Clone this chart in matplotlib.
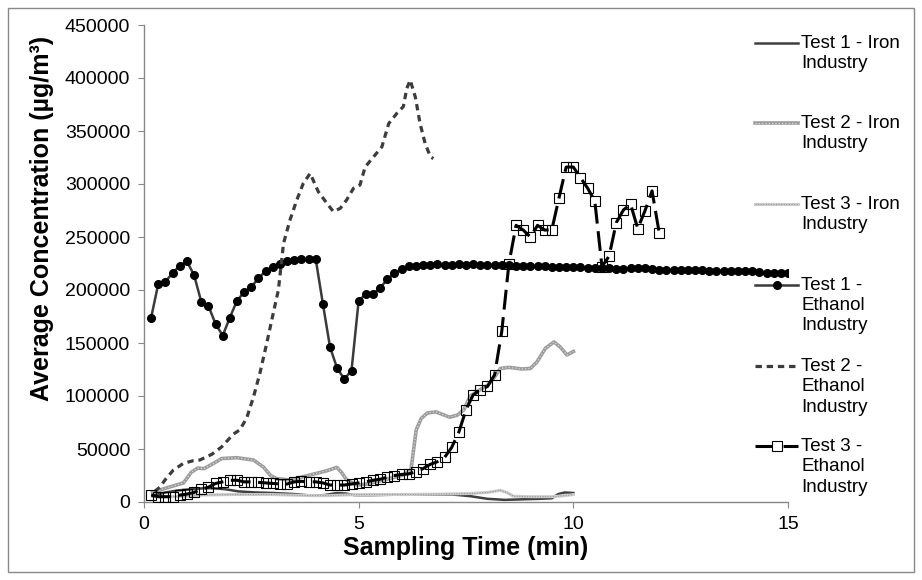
import numpy as np
import matplotlib
matplotlib.use("Agg")
import matplotlib.pyplot as plt
from matplotlib.lines import Line2D
from matplotlib.patches import Rectangle

plt.rcParams['font.family'] = ['Liberation Sans', 'DejaVu Sans']

# Test 1 - Iron Industry (values in 1000 ug/m3)
t_iron1 = [0.2, 0.5, 0.8, 1.1, 1.4, 1.6, 1.9, 2.2, 2.6, 3.0, 3.5, 3.9, 4.2, 4.5, 4.7, 4.9,
           5.3, 6.0, 6.6, 7.2, 7.6, 8.0, 8.4, 8.8, 9.2, 9.5, 9.65, 9.8, 10.0]
c_iron1 = [6, 9, 11, 12, 13, 13, 12, 10, 9, 8.5, 7.5, 6, 6.5, 8.5, 8, 6.5,
           6.5, 7, 7, 7, 5.5, 3, 2, 2.5, 3, 3.5, 7.5, 9, 8.5]

# Test 2 - Iron Industry
t_iron2 = [0.2, 0.5, 0.92, 1.1, 1.25, 1.4, 1.6, 1.81, 2.16, 2.55, 2.78, 2.95, 3.09, 3.4, 3.87,
           4.26, 4.49, 4.6, 4.72, 4.96, 5.2, 5.5, 5.8, 6.0, 6.15, 6.22, 6.34, 6.46, 6.6, 6.8,
           7.12, 7.3, 7.45, 7.6, 7.83, 8.0, 8.15, 8.3, 8.5, 8.8, 9.0, 9.15, 9.35, 9.55, 9.7,
           9.85, 10.0]
c_iron2 = [9, 13, 18, 28, 32, 31.5, 36, 41, 41.8, 39.6, 33, 25, 22, 20.8, 25.5,
           29.5, 32.7, 28, 20.8, 16, 17, 20, 23, 25, 28, 31, 68, 79, 84, 85,
           80, 82, 87, 100, 106, 110, 117, 126, 127, 125.5, 126, 132, 145, 151, 146,
           138.7, 142]

# Test 3 - Iron Industry
t_iron3 = [0.2, 0.6, 1.0, 1.3, 2.0, 3.0, 3.9, 4.3, 4.6, 5.0, 6.0, 7.0, 7.6, 8.0, 8.3, 8.45,
           8.6, 9.0, 9.5, 9.8, 10.0]
c_iron3 = [5, 5, 5.5, 6.5, 7, 7, 6, 6, 6.5, 7, 7, 7.5, 8, 9, 11, 9,
           5.5, 5, 5, 6, 7]

# Test 1 - Ethanol Industry, one sample every 10 s
t_eth1 = np.arange(1, 91) / 6
c_eth1 = [174, 206, 208, 216, 223, 227, 214, 189, 185, 168,
          157, 174, 190, 198, 203, 211, 218, 222, 225, 227,
          228, 229, 229, 229, 187, 146, 126, 116, 124, 190,
          196, 196, 202, 210, 216, 220, 222.5, 223, 224, 224,
          225, 224, 224, 224.5, 224, 224.5, 224, 224, 223.5, 223.5,
          223.5, 223, 223, 222.5, 222.5, 222.5, 222, 222, 222, 222,
          221.5, 221, 221, 220.5, 220.5, 220, 220, 220.5, 221, 221,
          220, 219, 218.5, 218.5, 218.5, 218.5, 218.5, 218.5, 218, 218,
          218, 218, 217.5, 217.5, 217.5, 217, 216.5, 216, 216, 216.5]

# Test 2 - Ethanol Industry
t_eth2 = [0.25, 0.37, 0.49, 0.68, 0.92, 1.15, 1.3, 1.58, 1.81, 2.08, 2.23, 2.39, 2.55, 2.7,
          2.86, 3.01, 3.13, 3.25, 3.4, 3.56, 3.71, 3.87, 4.06, 4.26, 4.41, 4.57, 4.72, 4.88,
          5.03, 5.15, 5.35, 5.54, 5.7, 5.89, 6.04, 6.12, 6.2, 6.32, 6.43, 6.55, 6.67, 6.74]
c_eth2 = [10, 14, 20.8, 30, 36.5, 39, 39.6, 45, 52, 64, 68, 79, 99, 121.6,
          150, 178, 200, 244, 266, 285, 300.6, 310, 292.7, 281.8, 274, 277, 285, 296,
          299, 316, 325.8, 335, 357, 366.7, 373, 390, 398, 382, 357, 338, 325.8, 324]

# Test 3 - Ethanol Industry, one sample every 10 s
t_eth3 = np.arange(1, 73) / 6
c_eth3 = [6.5, 5, 5, 5, 6.5, 7.5, 9, 12, 14, 17.5,
          19, 20.5, 20.5, 19, 19, 18.5, 18, 17.5, 17, 17,
          19, 19.5, 19, 19, 18, 16, 16, 16, 17, 18,
          19, 20.5, 21.5, 23.5, 25, 26, 26.5, 28.5, 31.5, 35.5,
          38, 42, 51.5, 66, 87, 101, 105.5, 109, 120, 161,
          225, 261, 256.5, 250, 261, 256.5, 257, 287, 316, 316,
          306, 296, 284, 222, 232, 263.5, 275.5, 281, 258, 274.5,
          293.5, 254]

fig = plt.figure(figsize=(9.22, 5.8), dpi=100)
ax = fig.add_axes([144 / 922, 78 / 580, 644 / 922, 477 / 580])

k = 1000
# iron industry lines
ax.plot(t_iron2, np.array(c_iron2) * k, color='#9c9c9c', lw=2.6, zorder=2)
ax.plot(t_iron2, np.array(c_iron2) * k, color='#d8d8d8', lw=0.9, ls=':', zorder=2)
ax.plot(t_iron3, np.array(c_iron3) * k, color='#cccccc', lw=2.2, zorder=3)
ax.plot(t_iron3, np.array(c_iron3) * k, color='#8a8a8a', lw=0.7, ls=':', zorder=3)
ax.plot(t_iron1, np.array(c_iron1) * k, color='#404040', lw=1.8, zorder=2)

# ethanol industry lines
ax.plot(t_eth1, np.array(c_eth1) * k, color='#3a3a3a', lw=1.8, marker='o', ms=5.5,
        mfc='black', mec='black', zorder=4)
ax.plot(t_eth2, np.array(c_eth2) * k, color='#3c3c3c', lw=2.3, dashes=(2, 1.5), zorder=4)
ax.plot(t_eth3, np.array(c_eth3) * k, color='black', lw=2.2, dashes=(6.5, 2.5),
        marker='s', ms=6.5, mfc='none', mec='black', mew=0.8, zorder=5)

ax.set_xlim(0, 15)
ax.set_ylim(0, 450000)
ax.set_xticks([0, 5, 10, 15])
ax.set_yticks(np.arange(0, 450001, 50000))
ax.set_yticklabels([str(v) for v in range(0, 450001, 50000)])
for s in ['top', 'right']:
    ax.spines[s].set_visible(False)
for s in ['left', 'bottom']:
    ax.spines[s].set_color('#888888')
    ax.spines[s].set_linewidth(1)
ax.tick_params(direction='out', length=4, color='#888888', labelsize=14, pad=6)

fig.text(466 / 922, 1 - 548 / 580, 'Sampling Time (min)', ha='center', va='center',
         fontsize=18, fontweight='bold')
fig.text(42 / 922, 1 - 218 / 580, 'Average Concentration (µg/m³)', ha='center', va='center',
         rotation=90, fontsize=18, fontweight='bold')

# legend drawn on the right
labels = ['Test 1 - Iron\nIndustry', 'Test 2 - Iron\nIndustry', 'Test 3 - Iron\nIndustry',
          'Test 1 -\nEthanol\nIndustry', 'Test 2 -\nEthanol\nIndustry', 'Test 3 -\nEthanol\nIndustry']
rows = [43, 123, 204, 285, 366, 446]
x0, x1, xt = 755 / 922, 798 / 922, 801 / 922
styles = [
    [dict(color='#404040', lw=1.8)],
    [dict(color='#9c9c9c', lw=2.6), dict(color='#d8d8d8', lw=0.9, ls=':')],
    [dict(color='#cccccc', lw=2.2), dict(color='#8a8a8a', lw=0.7, ls=':')],
    [dict(color='#3a3a3a', lw=1.8, marker='o', ms=5.5, mfc='black', mec='black', markevery=[1])],
    [dict(color='#3c3c3c', lw=2.3, dashes=(2, 1.5))],
    [dict(color='black', lw=2.2, dashes=(5.9, 3.3), marker='s', ms=6.5, mfc='white',
          mec='black', mew=0.8, markevery=[1])],
]
for lab, r, st in zip(labels, rows, styles):
    y = 1 - r / 580
    for kw in st:
        fig.add_artist(Line2D([x0, (x0 + x1) / 2, x1], [y, y, y], transform=fig.transFigure, **kw))
    fig.text(xt, y + 8 / 580, lab, ha='left', va='top', fontsize=13.5, linespacing=1.25)

fig.add_artist(Rectangle((8 / 922, 8 / 580), 906 / 922, 564 / 580, transform=fig.transFigure,
                         fill=False, ec='#888888', lw=1))

fig.savefig('out.png', dpi=100)
